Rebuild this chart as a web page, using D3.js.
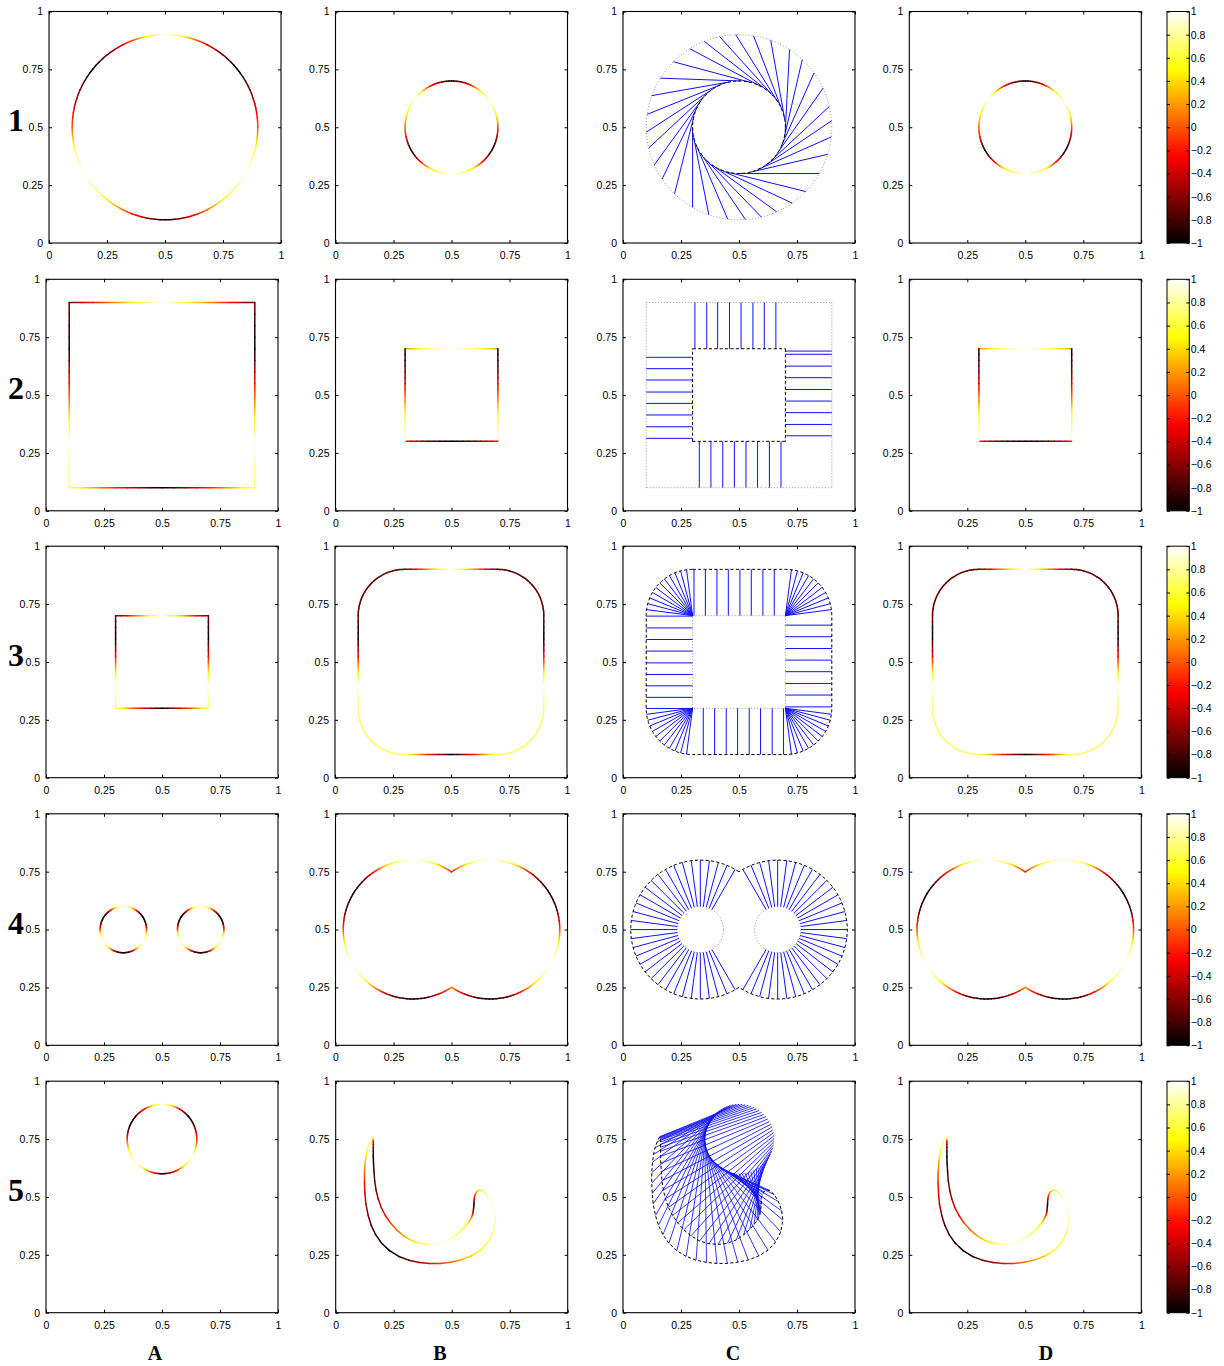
<!DOCTYPE html>
<html><head><meta charset="utf-8">
<script src="https://cdn.jsdelivr.net/npm/d3@7"></script>
<style>body{margin:0;background:#fff}</style>
</head><body><svg id="c" width="1224" height="1366"></svg>
<script>
// ---------------- DATA ----------------
const ticks = [0, 0.25, 0.5, 0.75, 1];
const tickLabels = ["0", "0.25", "0.5", "0.75", "1"];
const cbTicks = [1, 0.8, 0.6, 0.4, 0.2, 0, -0.2, -0.4, -0.6, -0.8, -1];
const cbLabels = ["1", "0.8", "0.6", "0.4", "0.2", "0", "\u22120.2", "\u22120.4", "\u22120.6", "\u22120.8", "\u22121"];
const rowNames = ["1", "2", "3", "4", "5"];
const colNames = ["A", "B", "C", "D"];

// Row 1: circles
const circA1 = {c: [0.5, 0.5], r: 0.4};
const angA1 = [0, 20, 40, 55, 70, 80, 90, 100, 110, 125, 140, 160, 180, 195, 210, 225, 240, 255, 270, 285, 300, 315, 330, 345, 360];
const valA1 = [0, -0.6, -1, -0.6, 0, 0.6, 1, 0.6, 0, -0.6, -1, -0.6, 0, 0.7, 1, 0.7, 0.2, -0.4, -1, -0.4, 0.2, 0.7, 1, 0.7, 0];
const circB1 = {c: [0.5, 0.5], r: 0.2};
const angB1 = [0, 15, 33, 51, 69, 90, 111, 125, 141, 163, 188, 211, 228, 244, 270, 295, 312, 331, 348, 360];
const valB1 = [0, 0.5, 1, 0.5, -0.3, -1, -0.4, 0.2, 1, 0.5, -0.1, -1, -0.2, 0.5, 1, 0.6, -0.2, -1, -0.5, 0];
const c1Outer = [-30, -17, -6, 4, 13, 25, 36, 47, 57, 70, 81, 92, 102, 112, 122, 135, 148, 160, 172, 183, 193, 204, 214, 226, 240, 251, 263, 274, 284, 294, 305, 316];
const c1Twist = 60;

// Row 2: squares (corners TL, TR, BR, BL; edge values along each edge clockwise)
const sqA2 = [[0.1, 0.9], [0.9, 0.9], [0.9, 0.1], [0.1, 0.1]];
const edgeA2 = [[-0.71, 0.18, 1, 0.18, -0.71], [-0.71, -0.98, 0, 0.98, 0.71], [0.71, -0.18, -1, -0.18, 0.71], [0.71, 0.98, 0, -0.98, -0.71]];
const sqB2 = [[0.3, 0.7], [0.7, 0.7], [0.7, 0.3], [0.3, 0.3]];
const edgeB2 = [[0.18, 0.74, 1, 0.74, 0.18], [-0.98, -0.67, 0, 0.67, 0.98], [-0.18, -0.74, -1, -0.74, -0.18], [0.98, 0.67, 0, -0.67, -0.98]];
const c2Top = [0.310, 0.361, 0.408, 0.459, 0.509, 0.560, 0.609, 0.659];
const c2Bottom = [0.329, 0.379, 0.430, 0.480, 0.530, 0.580, 0.631, 0.681];
const c2Left = [0.663, 0.614, 0.565, 0.513, 0.464, 0.414, 0.363, 0.313];
const c2Right = [0.690, 0.676, 0.625, 0.575, 0.524, 0.474, 0.424, 0.373, 0.324];

// Row 3: small square and rounded square
const sqA3 = [[0.3, 0.7], [0.7, 0.7], [0.7, 0.3], [0.3, 0.3]];
const edgeA3 = [[-0.71, 0.18, 1, 0.18, -0.71], [-0.71, -0.98, 0, 0.98, 0.71], [0.71, -0.18, -1, -0.18, 0.71], [0.71, 0.98, 0, -0.98, -0.71]];
const rsB3 = {lo: 0.3, hi: 0.7, r: 0.2};
const edgeB3 = [[-0.71, 0.18, 1, 0.18, -0.71], [-0.71, -0.98, 0, 0.98, 0.71], [0.71, -0.18, -1, -0.18, 0.71], [0.71, 0.98, 0, -0.98, -0.71]];
const cornerB3 = [-0.71, 0.71, 0.71, -0.71]; // TR, BR, BL, TL
const c3Top = [0.306, 0.355, 0.405, 0.454, 0.504, 0.553, 0.603, 0.652];
const c3Bottom = [0.346, 0.395, 0.445, 0.494, 0.544, 0.593, 0.643, 0.692];
const c3Left = [0.698, 0.647, 0.597, 0.547, 0.496, 0.446, 0.397, 0.347, 0.299];
const c3Right = [0.659, 0.609, 0.558, 0.508, 0.458, 0.407, 0.357, 0.306];
const c3FanTR = [7.5, 15, 22.5, 30, 37.5, 45, 52.5, 60, 67.5, 75, 82.5];
const c3FanBR = [-7.5, -15, -22.5, -30, -37.5, -45, -52.5, -60, -67.5, -75, -82.5];
const c3FanBL = [187.5, 195, 202.5, 210, 217.5, 225, 232.5, 240, 247.5, 255, 262.5];
const c3FanTL = [97.5, 105, 112.5, 120, 127.5, 135, 142.5, 150, 157.5, 165, 172.5];

// Row 4: two circles / two lobes
const lobeCenters = [[1 / 3, 0.5], [2 / 3, 0.5]];
const rSmall4 = 0.1, rBig4 = 0.3, junction4 = 56.3;
const ang4 = [0, 15, 30, 45, 60, 75, 90, 105, 120, 135, 150, 165, 180, 195, 210, 225, 240, 255, 270, 285, 300, 315, 330, 345, 360];
const valA4 = [0, -0.71, -1, -0.71, 0, 0.71, 1, 0.71, 0, -0.71, -1, -0.71, 0, 0.71, 1, 0.71, 0, -0.71, -1, -0.71, 0, 0.71, 1, 0.71, 0];
const valB4 = [0, -0.71, -1, -0.71, 0, 0.71, 1, 0.71, 0, -0.71, -1, -0.71, 0, 0.71, 1, 0.71, 0, -0.71, -1, -0.71, 0, 0.71, 1, 0.71, 0];
const c4LeftAng = [60, 67.5, 75, 82.5, 90, 97.5, 105, 112.5, 120, 127.5, 135, 142.5, 150, 157.5, 165, 172.5, 180, 187.5, 195, 202.5, 210, 217.5, 225, 232.5, 240, 247.5, 255, 262.5, 270, 277.5, 285, 292.5, 300];
const c4RightAng = [120, 112.5, 105, 97.5, 90, 82.5, 75, 67.5, 60, 52.5, 45, 37.5, 30, 22.5, 15, 7.5, 0, -7.5, -15, -22.5, -30, -37.5, -45, -52.5, -60, -67.5, -75, -82.5, -90, -97.5, -105, -112.5, -120];

// Row 5: circle and its deformed hook (hook points keyed by the circle angle)
const circA5 = {c: [0.5, 0.75], r: 0.15};
const angA5 = [0, 22, 40, 61, 75, 90, 105, 120, 140, 158, 180, 202, 224, 242, 257, 271, 291, 310, 331, 345, 360];
const valA5 = [-0.1, -0.7, -1, -0.2, 0.5, 1, 0.5, -0.2, -0.8, -1, -0.1, 0.6, 1, 0.4, -0.3, -1, -0.3, 0.5, 1, 0.4, -0.1];
const hookTheta = [90, 95, 100, 105, 110, 115, 120, 125, 130, 135, 140, 145, 150, 155, 160, 165, 170, 175, 180, 185, 190, 195, 200, 205, 210, 215, 220, 225, 230, 235, 240, 245, 250, 255, 260, 265, 270,
  275, 280, 285, 290, 295, 300, 305, 310, 315, 320, 325, 330, 335, 340, 345, 350, 355, 360, 365, 370, 375, 380, 385, 390, 395, 400, 405, 410, 415, 420, 425, 430, 435, 440, 445];
const hookX = [0.158, 0.147, 0.138, 0.132, 0.127, 0.124, 0.124, 0.126, 0.130, 0.140, 0.153, 0.172, 0.198, 0.232, 0.272, 0.315, 0.360, 0.405, 0.450, 0.495, 0.540, 0.585, 0.625, 0.658, 0.680, 0.689, 0.684, 0.670, 0.652, 0.634, 0.620, 0.608, 0.601, 0.598, 0.597, 0.596, 0.596,
  0.595, 0.594, 0.593, 0.592, 0.590, 0.586, 0.578, 0.565, 0.546, 0.520, 0.488, 0.450, 0.410, 0.370, 0.330, 0.293, 0.262, 0.236, 0.214, 0.196, 0.183, 0.174, 0.168, 0.165, 0.163, 0.162, 0.162, 0.162, 0.162, 0.162, 0.161, 0.161, 0.160, 0.160, 0.159];
const hookY = [0.760, 0.738, 0.712, 0.684, 0.650, 0.605, 0.560, 0.515, 0.470, 0.420, 0.378, 0.337, 0.300, 0.268, 0.243, 0.227, 0.217, 0.213, 0.213, 0.218, 0.228, 0.245, 0.270, 0.305, 0.350, 0.400, 0.440, 0.480, 0.510, 0.527, 0.530, 0.522, 0.510, 0.498, 0.488, 0.478, 0.468,
  0.458, 0.448, 0.440, 0.432, 0.424, 0.414, 0.398, 0.381, 0.360, 0.336, 0.314, 0.300, 0.295, 0.298, 0.310, 0.332, 0.358, 0.388, 0.420, 0.455, 0.492, 0.530, 0.570, 0.610, 0.645, 0.675, 0.698, 0.715, 0.728, 0.738, 0.745, 0.750, 0.754, 0.757, 0.759];

// ---------------- LAYOUT ----------------
const W = 232, H = 231.5;
const rowTop = [11.5, 279.3, 546.2, 813.8, 1081.2];
const colLeft = [[49, 46, 46, 46, 46], [335.5, 335.5, 335, 335.5, 335.7], [623, 623, 623, 623, 623], [909.3, 909.3, 909.3, 909.3, 909.3]];
const cbX = 1167, cbW = 22.3;
const FONT = "'Liberation Sans', Arial, Helvetica, sans-serif";
const SERIF = "'Liberation Serif', 'Times New Roman', serif";

const svg = d3.select("#c");
svg.append("rect").attr("width", 1224).attr("height", 1366).attr("fill", "#fff");
const defs = svg.append("defs");
const hot = d3.scaleLinear().domain([-1, -0.25, 0.5, 1]).range(["#000000", "#ff0000", "#ffff00", "#ffffff"]).clamp(true);
const norm = a => ((a % 360) + 360) % 360;

function circlePoint(c, r, deg) {
  const p = d3.pointRadial((90 - deg) * Math.PI / 180, r);
  return [c[0] + p[0], c[1] - p[1]];
}
function arcPiece(c, r, a0, a1, vfun) {
  const n = Math.max(2, Math.ceil(Math.abs(a1 - a0) / 3));
  return d3.range(n + 1).map(i => {
    const a = a0 + (a1 - a0) * i / n;
    return {p: circlePoint(c, r, a), v: vfun(a)};
  });
}
function linePiece(p0, p1, stops) {
  const vs = d3.scaleLinear().domain(stops.map((_, i) => i / (stops.length - 1))).range(stops);
  const ix = d3.interpolateNumber(p0[0], p1[0]), iy = d3.interpolateNumber(p0[1], p1[1]);
  const n = 16;
  return d3.range(n + 1).map(i => ({p: [ix(i / n), iy(i / n)], v: vs(i / n)}));
}
function squareSamples(corners, edges) {
  let s = [];
  for (let k = 0; k < 4; k++) s = s.concat(linePiece(corners[k], corners[(k + 1) % 4], edges[k]));
  return s;
}
function roundedSamples(rs, edges, corners) {
  const {lo, hi, r} = rs;
  const cst = v => () => v;
  let s = [];
  s = s.concat(linePiece([lo, hi + r], [hi, hi + r], edges[0]));
  s = s.concat(arcPiece([hi, hi], r, 90, 0, cst(corners[0])));
  s = s.concat(linePiece([hi + r, hi], [hi + r, lo], edges[1]));
  s = s.concat(arcPiece([hi, lo], r, 0, -90, cst(corners[1])));
  s = s.concat(linePiece([hi, lo - r], [lo, lo - r], edges[2]));
  s = s.concat(arcPiece([lo, lo], r, -90, -180, cst(corners[2])));
  s = s.concat(linePiece([lo - r, lo], [lo - r, hi], edges[3]));
  s = s.concat(arcPiece([lo, hi], r, 180, 90, cst(corners[3])));
  return s;
}
function angScale(angs, vals) {
  const sc = d3.scaleLinear().domain(angs).range(vals);
  return a => sc(norm(a));
}
let gid = 0;
function drawColored(g, x, y, samples) {
  const n = samples.length;
  const pts = samples.map(s => [x(s.p[0]), y(s.p[1])]);
  for (let i = 0; i < n; i++) {
    const a = pts[i], b = pts[(i + 1) % n];
    if (Math.hypot(b[0] - a[0], b[1] - a[1]) < 0.05) continue;
    const id = "lg" + (gid++);
    const lg = defs.append("linearGradient").attr("id", id).attr("gradientUnits", "userSpaceOnUse")
      .attr("x1", a[0]).attr("y1", a[1]).attr("x2", b[0]).attr("y2", b[1]);
    lg.append("stop").attr("offset", 0).attr("stop-color", hot(samples[i].v));
    lg.append("stop").attr("offset", 1).attr("stop-color", hot(samples[(i + 1) % n].v));
    g.append("line").attr("x1", a[0]).attr("y1", a[1]).attr("x2", b[0]).attr("y2", b[1])
      .attr("stroke", `url(#${id})`).attr("stroke-width", 1.5).attr("stroke-linecap", "round");
  }
}
function drawPlain(g, x, y, samples, style) {
  const line = d3.line().x(s => x(s.p[0])).y(s => y(s.p[1])).curve(d3.curveLinearClosed);
  g.append("path").attr("d", line(samples)).attr("fill", "none")
    .attr("stroke", style === "dot" ? "#8a8a8a" : "#000").attr("stroke-width", style === "dot" ? 0.9 : 1)
    .attr("stroke-dasharray", style === "dot" ? "1,2" : "3.2,2.2");
}
function blue(g, x, y, p0, p1, w) {
  g.append("line").attr("x1", x(p0[0])).attr("y1", y(p0[1])).attr("x2", x(p1[0])).attr("y2", y(p1[1]))
    .attr("stroke", "#1010ff").attr("stroke-width", w || 1);
}
function axes(g, x, y, hideX0) {
  const fmt = d => tickLabels[ticks.indexOf(d)];
  g.append("g").attr("transform", `translate(0,${y(0)})`)
    .call(d3.axisBottom(x).tickValues(ticks).tickFormat(d => (hideX0 && d === 0) ? "" : fmt(d)).tickSizeInner(-3).tickSizeOuter(0).tickPadding(8.5));
  g.append("g").attr("transform", `translate(${x(0)},0)`)
    .call(d3.axisLeft(y).tickValues(ticks).tickFormat(fmt).tickSizeInner(-3).tickSizeOuter(0).tickPadding(6));
  g.append("g").attr("transform", `translate(0,${y(1)})`)
    .call(d3.axisTop(x).tickValues(ticks).tickFormat("").tickSizeInner(-3).tickSizeOuter(0));
  g.append("g").attr("transform", `translate(${x(1)},0)`)
    .call(d3.axisRight(y).tickValues(ticks).tickFormat("").tickSizeInner(-3).tickSizeOuter(0));
  g.selectAll(".domain").remove();
  g.selectAll(".tick line").attr("stroke", "#000");
  g.selectAll("text").attr("font-family", FONT).attr("font-size", 10.5).attr("fill", "#000");
  g.append("rect").attr("x", x(0)).attr("y", y(1)).attr("width", x(1) - x(0)).attr("height", y(0) - y(1))
    .attr("fill", "none").attr("stroke", "#000").attr("stroke-width", 1.1);
}

// ---------------- SAMPLES PER ROW ----------------
const sA1 = arcPiece(circA1.c, circA1.r, 0, 360, angScale(angA1, valA1)).slice(0, -1);
const sB1 = arcPiece(circB1.c, circB1.r, 0, 360, angScale(angB1, valB1)).slice(0, -1);
const sA2 = squareSamples(sqA2, edgeA2);
const sB2 = squareSamples(sqB2, edgeB2);
const sA3 = squareSamples(sqA3, edgeA3);
const sB3 = roundedSamples(rsB3, edgeB3, cornerB3);
const vA4 = angScale(ang4, valA4), vB4 = angScale(ang4, valB4);
const sA4 = lobeCenters.map(c => arcPiece(c, rSmall4, 0, 360, vA4).slice(0, -1));
const sB4 = arcPiece(lobeCenters[0], rBig4, junction4, 360 - junction4, vB4)
  .concat(arcPiece(lobeCenters[1], rBig4, 180 + junction4, 540 - junction4, vB4));
const vA5 = angScale(angA5, valA5);
const sA5 = arcPiece(circA5.c, circA5.r, 0, 360, vA5).slice(0, -1);
const sB5 = hookTheta.map((t, i) => ({p: [hookX[i], hookY[i]], v: vA5(t)}));

const rowsA = [[sA1], [sA2], [sA3], sA4, [sA5]];
const rowsB = [[sB1], [sB2], [sB3], [sB4], [sB5]];

// ---------------- DRAW ----------------
for (let r = 0; r < 5; r++) {
  for (let c = 0; c < 4; c++) {
    const x0 = colLeft[c][r], y0 = rowTop[r];
    const x = d3.scaleLinear().domain([0, 1]).range([x0, x0 + W]);
    const y = d3.scaleLinear().domain([0, 1]).range([y0 + H, y0]);
    const g = svg.append("g");
    if (c === 0) rowsA[r].forEach(s => drawColored(g, x, y, s));
    if (c === 1 || c === 3) rowsB[r].forEach(s => drawColored(g, x, y, s));
    if (c === 2) {
      rowsA[r].forEach(s => drawPlain(g, x, y, s, "dot"));
      const lg = g.append("g");
      if (r === 0) c1Outer.forEach(a => blue(lg, x, y, circlePoint(circB1.c, circB1.r, a - c1Twist), circlePoint(circA1.c, circA1.r, a)));
      if (r === 1) {
        c2Top.forEach(v => blue(lg, x, y, [v, 0.7], [v, 0.9]));
        c2Bottom.forEach(v => blue(lg, x, y, [v, 0.1], [v, 0.3]));
        c2Left.forEach(v => blue(lg, x, y, [0.1, v], [0.3, v]));
        c2Right.forEach(v => blue(lg, x, y, [0.7, v], [0.9, v]));
      }
      if (r === 2) {
        c3Top.forEach(v => blue(lg, x, y, [v, 0.7], [v, 0.9]));
        c3Bottom.forEach(v => blue(lg, x, y, [v, 0.1], [v, 0.3]));
        c3Left.forEach(v => blue(lg, x, y, [0.1, v], [0.3, v]));
        c3Right.forEach(v => blue(lg, x, y, [0.7, v], [0.9, v]));
        [[c3FanTR, [0.7, 0.7]], [c3FanBR, [0.7, 0.3]], [c3FanBL, [0.3, 0.3]], [c3FanTL, [0.3, 0.7]]]
          .forEach(([angs, cc]) => angs.forEach(a => blue(lg, x, y, cc, circlePoint(cc, rsB3.r, a))));
      }
      if (r === 3) {
        c4LeftAng.forEach(a => blue(lg, x, y, circlePoint(lobeCenters[0], rSmall4, a), circlePoint(lobeCenters[0], rBig4, a)));
        c4RightAng.forEach(a => blue(lg, x, y, circlePoint(lobeCenters[1], rSmall4, a), circlePoint(lobeCenters[1], rBig4, a)));
      }
      if (r === 4) hookTheta.forEach((t, i) => blue(lg, x, y, circlePoint(circA5.c, circA5.r, t), [hookX[i], hookY[i]], 0.85));
      rowsB[r].forEach(s => drawPlain(g, x, y, s, "dash"));
    }
    axes(g, x, y, c === 3);
  }
  // colorbar
  const yb = d3.scaleLinear().domain([-1, 1]).range([rowTop[r] + H, rowTop[r]]);
  const cid = "cb" + r;
  const cg = defs.append("linearGradient").attr("id", cid).attr("x1", 0).attr("y1", 1).attr("x2", 0).attr("y2", 0);
  hot.domain().forEach(v => cg.append("stop").attr("offset", (v + 1) / 2).attr("stop-color", hot(v)));
  const gb = svg.append("g");
  gb.append("rect").attr("x", cbX).attr("y", yb(1)).attr("width", cbW).attr("height", yb(-1) - yb(1)).attr("fill", `url(#${cid})`);
  gb.append("g").attr("transform", `translate(${cbX + cbW},0)`)
    .call(d3.axisRight(yb).tickValues(cbTicks).tickFormat((d, i) => cbLabels[i]).tickSizeInner(-3).tickSizeOuter(0).tickPadding(1.5));
  gb.append("g").attr("transform", `translate(${cbX},0)`)
    .call(d3.axisLeft(yb).tickValues(cbTicks).tickFormat("").tickSizeInner(-3).tickSizeOuter(0));
  gb.selectAll(".domain").remove();
  gb.selectAll(".tick line").attr("stroke", "#000");
  gb.selectAll("text").attr("font-family", FONT).attr("font-size", 10.5).attr("fill", "#000");
  gb.append("rect").attr("x", cbX).attr("y", yb(1)).attr("width", cbW).attr("height", yb(-1) - yb(1))
    .attr("fill", "none").attr("stroke", "#000").attr("stroke-width", 1);
  // row label
  svg.append("text").attr("x", 16).attr("y", rowTop[r] + H / 2 - 7).attr("text-anchor", "middle")
    .attr("dominant-baseline", "central").attr("font-family", SERIF).attr("font-weight", "bold")
    .attr("font-size", 32).text(rowNames[r]);
}
const colLabelX = [155, 440, 733, 1046];
colNames.forEach((n, i) => svg.append("text").attr("x", colLabelX[i]).attr("y", 1360).attr("text-anchor", "middle")
  .attr("font-family", SERIF).attr("font-weight", "bold").attr("font-size", 20).text(n));
</script></body></html>
